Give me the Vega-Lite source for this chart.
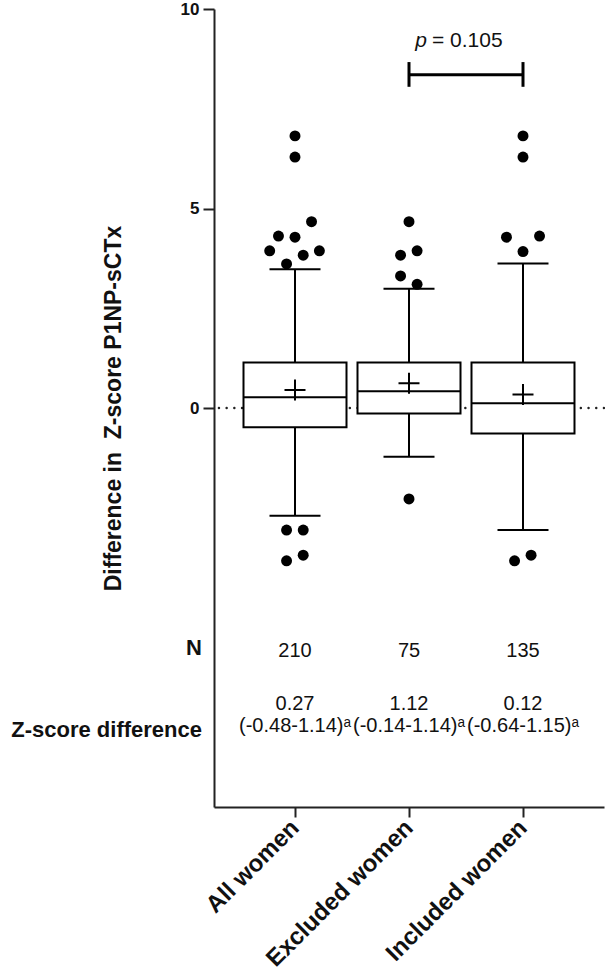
{
  "$schema": "https://vega.github.io/schema/vega-lite/v6.json",
  "width": 390,
  "height": 798,
  "autosize": {"type": "none"},
  "padding": {"left": 214, "top": 9, "right": 1, "bottom": 167},
  "background": "white",
  "config": {
    "view": {"stroke": null},
    "font": "Liberation Sans",
    "axis": {"grid": false, "domainColor": "#222", "tickColor": "#222", "labelColor": "#111", "titleColor": "#111"}
  },
  "resolve": {"axis": {"x": "independent", "y": "independent"}},
  "datasets": {
    "boxes": [
      {"pos": 1, "group": "All women", "lower": -2.70, "q1": -0.48, "median": 0.27, "q3": 1.14, "upper": 3.48, "mean": 0.45, "n": "210", "med_text": "0.27", "iqr_text": "(-0.48-1.14)ᵃ"},
      {"pos": 2, "group": "Excluded women", "lower": -1.22, "q1": -0.14, "median": 0.42, "q3": 1.14, "upper": 2.99, "mean": 0.62, "n": "75", "med_text": "1.12", "iqr_text": "(-0.14-1.14)ᵃ"},
      {"pos": 3, "group": "Included women", "lower": -3.06, "q1": -0.64, "median": 0.12, "q3": 1.14, "upper": 3.62, "mean": 0.34, "n": "135", "med_text": "0.12", "iqr_text": "(-0.64-1.15)ᵃ"}
    ],
    "outliers": [
      {"pos": 1.0, "value": 6.82}, {"pos": 1.0, "value": 6.29}, {"pos": 1.145, "value": 4.67},
      {"pos": 0.855, "value": 4.31}, {"pos": 1.0, "value": 4.28}, {"pos": 0.778, "value": 3.94},
      {"pos": 1.214, "value": 3.94}, {"pos": 1.072, "value": 3.83}, {"pos": 0.926, "value": 3.61},
      {"pos": 0.926, "value": -3.06}, {"pos": 1.072, "value": -3.06}, {"pos": 0.926, "value": -3.83},
      {"pos": 1.072, "value": -3.69},
      {"pos": 2.0, "value": 4.67}, {"pos": 2.071, "value": 3.94}, {"pos": 1.926, "value": 3.83},
      {"pos": 1.926, "value": 3.31}, {"pos": 2.071, "value": 3.10}, {"pos": 2.0, "value": -2.28},
      {"pos": 3.0, "value": 6.82}, {"pos": 3.0, "value": 6.29}, {"pos": 2.855, "value": 4.28},
      {"pos": 3.145, "value": 4.31}, {"pos": 3.0, "value": 3.92}, {"pos": 2.926, "value": -3.83},
      {"pos": 3.071, "value": -3.69}
    ],
    "zero": [{"y": 0}],
    "comparison": [{"from": 2, "to": 3, "mid": 2.5, "level": 8.35, "lo": 8.05, "hi": 8.67, "textY": 9.05, "p": "p", "rest": "= 0.105"}],
    "rowlabels": [{"label": "N", "y": -6.02}, {"label": "Z-score difference", "y": -8.07}]
  },
  "layer": [
    {
      "data": {"name": "zero"},
      "mark": {"type": "rule", "color": "#222", "strokeWidth": 2.4, "strokeDash": [0.1, 7.6], "strokeCap": "round"},
      "encoding": {"y": {"field": "y", "type": "quantitative", "axis": null}}
    },
    {
      "data": {"name": "boxes"},
      "mark": {"type": "rule", "color": "black", "strokeWidth": 2},
      "encoding": {
        "x": {"field": "pos", "type": "quantitative", "axis": null},
        "y": {"field": "lower", "type": "quantitative", "axis": null},
        "y2": {"field": "q1"}
      }
    },
    {
      "data": {"name": "boxes"},
      "mark": {"type": "rule", "color": "black", "strokeWidth": 2},
      "encoding": {
        "x": {"field": "pos", "type": "quantitative", "axis": null},
        "y": {"field": "q3", "type": "quantitative", "axis": null},
        "y2": {"field": "upper"}
      }
    },
    {
      "data": {"name": "boxes"},
      "mark": {"type": "bar", "size": 103, "fill": "white", "stroke": "black", "strokeWidth": 2, "opacity": 1},
      "encoding": {
        "x": {
          "field": "pos", "type": "quantitative",
          "scale": {"domain": [0.33333, 3.66667], "nice": false, "zero": false},
          "axis": {
            "values": [1, 2, 3], "title": null, "domainWidth": 2, "tickSize": 10, "tickWidth": 2,
            "labelExpr": "datum.value == 1 ? 'All women' : datum.value == 2 ? 'Excluded women' : 'Included women'",
            "labelAngle": -45, "labelAlign": "right", "labelBaseline": "middle", "labelPadding": 7, "labelLimit": 0,
            "labelFont": "Liberation Sans", "labelFontSize": 24, "labelFontWeight": "bold", "labelOverlap": false, "labelBound": false, "labelFlush": false
          }
        },
        "y": {
          "field": "q1", "type": "quantitative",
          "scale": {"domain": [-10, 10], "nice": false, "zero": false},
          "axis": {
            "values": [0, 5, 10], "title": "Difference in \u00a0Z-score P1NP-sCTx",
            "domainWidth": 2, "tickSize": 11, "tickWidth": 2, "labelPadding": 4,
            "labelFont": "Liberation Sans", "labelFontSize": 17, "labelFontWeight": "bold",
            "titleFont": "Liberation Sans", "titleFontSize": 23, "titleFontWeight": "bold", "titlePadding": 55
          }
        },
        "y2": {"field": "q3"}
      }
    },
    {
      "data": {"name": "boxes"},
      "mark": {"type": "tick", "orient": "horizontal", "size": 103, "thickness": 2, "color": "black", "opacity": 1},
      "encoding": {
        "x": {"field": "pos", "type": "quantitative", "axis": null},
        "y": {"field": "median", "type": "quantitative", "axis": null}
      }
    },
    {
      "data": {"name": "boxes"},
      "mark": {"type": "tick", "orient": "horizontal", "size": 51, "thickness": 2, "color": "black", "opacity": 1},
      "encoding": {
        "x": {"field": "pos", "type": "quantitative", "axis": null},
        "y": {"field": "upper", "type": "quantitative", "axis": null}
      }
    },
    {
      "data": {"name": "boxes"},
      "mark": {"type": "tick", "orient": "horizontal", "size": 51, "thickness": 2, "color": "black", "opacity": 1},
      "encoding": {
        "x": {"field": "pos", "type": "quantitative", "axis": null},
        "y": {"field": "lower", "type": "quantitative", "axis": null}
      }
    },
    {
      "data": {"name": "boxes"},
      "mark": {"type": "point", "shape": "M-1,0H1M0,-1V1", "size": 441, "filled": false, "stroke": "black", "strokeWidth": 2, "opacity": 1},
      "encoding": {
        "x": {"field": "pos", "type": "quantitative", "axis": null},
        "y": {"field": "mean", "type": "quantitative", "axis": null}
      }
    },
    {
      "data": {"name": "outliers"},
      "mark": {"type": "circle", "size": 120, "color": "black", "opacity": 1},
      "encoding": {
        "x": {"field": "pos", "type": "quantitative", "axis": null},
        "y": {"field": "value", "type": "quantitative", "axis": null}
      }
    },
    {
      "data": {"name": "comparison"},
      "mark": {"type": "rule", "color": "black", "strokeWidth": 3},
      "encoding": {
        "x": {"field": "from", "type": "quantitative", "axis": null},
        "x2": {"field": "to"},
        "y": {"field": "level", "type": "quantitative", "axis": null}
      }
    },
    {
      "data": {"name": "comparison"},
      "mark": {"type": "rule", "color": "black", "strokeWidth": 3},
      "encoding": {
        "x": {"field": "from", "type": "quantitative", "axis": null},
        "y": {"field": "lo", "type": "quantitative", "axis": null},
        "y2": {"field": "hi"}
      }
    },
    {
      "data": {"name": "comparison"},
      "mark": {"type": "rule", "color": "black", "strokeWidth": 3},
      "encoding": {
        "x": {"field": "to", "type": "quantitative", "axis": null},
        "y": {"field": "lo", "type": "quantitative", "axis": null},
        "y2": {"field": "hi"}
      }
    },
    {
      "data": {"name": "comparison"},
      "mark": {"type": "text", "font": "Liberation Sans", "fontSize": 21, "fontStyle": "italic", "align": "right", "baseline": "alphabetic", "dx": -39, "color": "#111"},
      "encoding": {
        "x": {"field": "mid", "type": "quantitative", "axis": null},
        "y": {"field": "textY", "type": "quantitative", "axis": null},
        "text": {"field": "p"}
      }
    },
    {
      "data": {"name": "comparison"},
      "mark": {"type": "text", "font": "Liberation Sans", "fontSize": 21, "align": "left", "baseline": "alphabetic", "dx": -34, "color": "#111"},
      "encoding": {
        "x": {"field": "mid", "type": "quantitative", "axis": null},
        "y": {"field": "textY", "type": "quantitative", "axis": null},
        "text": {"field": "rest"}
      }
    },
    {
      "data": {"name": "boxes"},
      "mark": {"type": "text", "font": "Liberation Sans", "fontSize": 20, "align": "center", "baseline": "middle", "color": "#111"},
      "encoding": {
        "x": {"field": "pos", "type": "quantitative", "axis": null},
        "y": {"datum": -6.1, "type": "quantitative", "axis": null},
        "text": {"field": "n"}
      }
    },
    {
      "data": {"name": "boxes"},
      "mark": {"type": "text", "font": "Liberation Sans", "fontSize": 20, "align": "center", "baseline": "middle", "color": "#111"},
      "encoding": {
        "x": {"field": "pos", "type": "quantitative", "axis": null},
        "y": {"datum": -7.42, "type": "quantitative", "axis": null},
        "text": {"field": "med_text"}
      }
    },
    {
      "data": {"name": "boxes"},
      "mark": {"type": "text", "font": "Liberation Sans", "fontSize": 20, "align": "center", "baseline": "middle", "color": "#111"},
      "encoding": {
        "x": {"field": "pos", "type": "quantitative", "axis": null},
        "y": {"datum": -7.98, "type": "quantitative", "axis": null},
        "text": {"field": "iqr_text"}
      }
    },
    {
      "data": {"name": "rowlabels"},
      "mark": {"type": "text", "font": "Liberation Sans", "fontSize": 22, "fontWeight": "bold", "align": "right", "baseline": "middle", "dx": -17, "color": "#111"},
      "encoding": {
        "x": {"datum": 0.33333, "type": "quantitative", "axis": null},
        "y": {"field": "y", "type": "quantitative", "axis": null},
        "text": {"field": "label"}
      }
    }
  ]
}
